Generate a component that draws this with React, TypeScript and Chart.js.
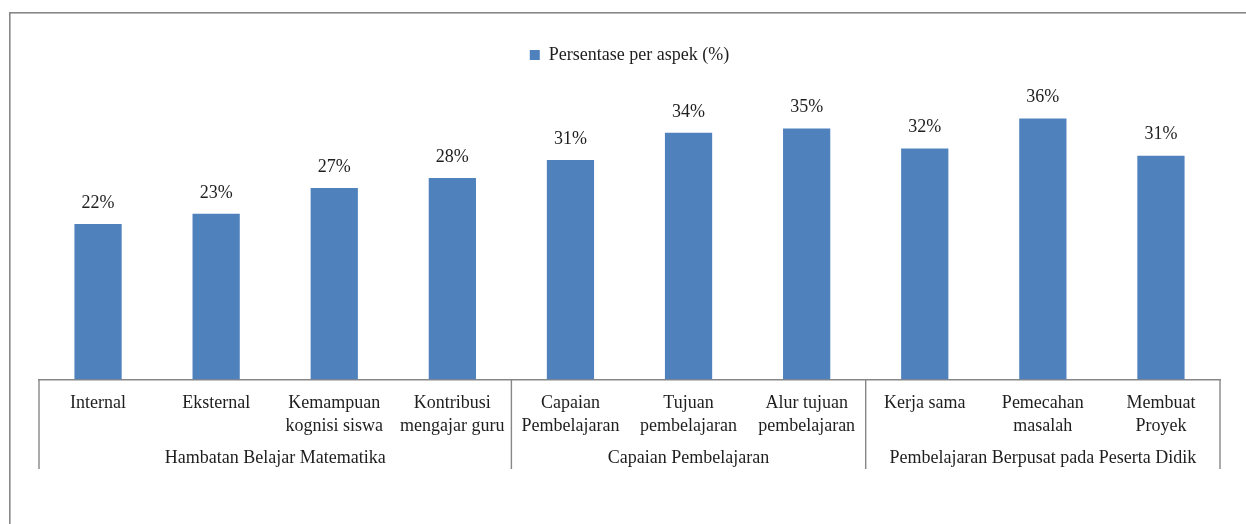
import React, { useEffect, useRef } from "react";
import { Chart, registerables } from "chart.js";

Chart.register(...registerables);

const categories: string[][] = [
  ["Internal"],
  ["Eksternal"],
  ["Kemampuan", "kognisi siswa"],
  ["Kontribusi", "mengajar guru"],
  ["Capaian", "Pembelajaran"],
  ["Tujuan", "pembelajaran"],
  ["Alur tujuan", "pembelajaran"],
  ["Kerja sama"],
  ["Pemecahan", "masalah"],
  ["Membuat", "Proyek"],
];
const values: number[] = [21.7, 23.1, 26.7, 28.1, 30.6, 34.4, 35.0, 32.2, 36.4, 31.2];
const groupNames: string[] = [
  "Hambatan Belajar Matematika",
  "Capaian Pembelajaran",
  "Pembelajaran Berpusat pada Peserta Didik",
];
const groupSizes: number[] = [4, 3, 3];
const seriesName = "Persentase per aspek (%)";
const yMax = 42.6;

const FONT = "'Liberation Serif', 'Times New Roman', serif";
const TEXT = "#1e1e1e";
const GRAY = "#878787";

const decorPlugin = {
  id: "decor",
  beforeDraw(chart: any) {
    const ctx = chart.ctx;
    ctx.save();
    ctx.strokeStyle = GRAY;
    ctx.lineWidth = 1.6;
    ctx.strokeRect(9.8, 12.8, 1400, 700);
    ctx.restore();
  },
  afterDraw(chart: any) {
    const ctx = chart.ctx;
    const x = chart.scales.x;
    const area = chart.chartArea;
    const n = categories.length;
    const step = (x.getPixelForValue(n - 1) - x.getPixelForValue(0)) / (n - 1);
    const bottomY = 469;
    ctx.save();
    ctx.strokeStyle = GRAY;
    ctx.lineWidth = 1.4;
    let idx = 0;
    const bounds: number[] = [x.getPixelForValue(0) - step / 2];
    groupSizes.forEach((s) => {
      idx += s;
      bounds.push(x.getPixelForValue(idx - 1) + step / 2);
    });
    bounds.forEach((bx) => {
      ctx.beginPath();
      ctx.moveTo(bx, area.bottom);
      ctx.lineTo(bx, bottomY);
      ctx.stroke();
    });
    ctx.fillStyle = TEXT;
    ctx.font = `18px ${FONT}`;
    ctx.textAlign = "center";
    ctx.textBaseline = "middle";
    groupNames.forEach((g, i) => {
      ctx.fillText(g, (bounds[i] + bounds[i + 1]) / 2, 458);
    });
    const meta = chart.getDatasetMeta(0);
    meta.data.forEach((el: any, i: number) => {
      ctx.fillText(Math.round(values[i]) + "%", el.x, el.y - 21);
    });
    ctx.restore();
  },
};

export default function App() {
  const ref = useRef<HTMLCanvasElement | null>(null);
  useEffect(() => {
    if (!ref.current) return;
    const chart = new Chart(ref.current, {
      type: "bar",
      data: {
        labels: categories,
        datasets: [
          {
            label: seriesName,
            data: values,
            backgroundColor: "#4F81BD",
            borderWidth: 0,
            barPercentage: 0.4,
            categoryPercentage: 1.0,
          },
        ],
      },
      options: {
        responsive: false,
        animation: false,
        layout: { padding: { left: 39, right: 26, top: 17.5, bottom: 0 } },
        plugins: {
          tooltip: { enabled: false },
          legend: {
            display: true,
            position: "top",
            labels: {
              boxWidth: 10,
              boxHeight: 10,
              padding: 28.5,
              color: TEXT,
              font: { family: FONT, size: 18 },
            },
          },
        },
        scales: {
          y: { display: false, min: 0, max: yMax },
          x: {
            grid: { display: false, drawTicks: false },
            border: { display: true, color: GRAY, width: 1.4 },
            ticks: {
              autoSkip: false,
              maxRotation: 0,
              minRotation: 0,
              padding: 13,
              color: TEXT,
              font: { family: FONT, size: 18, lineHeight: 1.25 },
            },
            afterFit: (scale: any) => {
              scale.height = 144.5;
            },
          },
        },
      },
      plugins: [decorPlugin],
    });
    return () => chart.destroy();
  }, []);
  return (
    <div style={{ position: "absolute", left: 0, top: 0, width: 1246, height: 524, background: "#fff" }}>
      <canvas ref={ref} width={1246} height={524} />
    </div>
  );
}
